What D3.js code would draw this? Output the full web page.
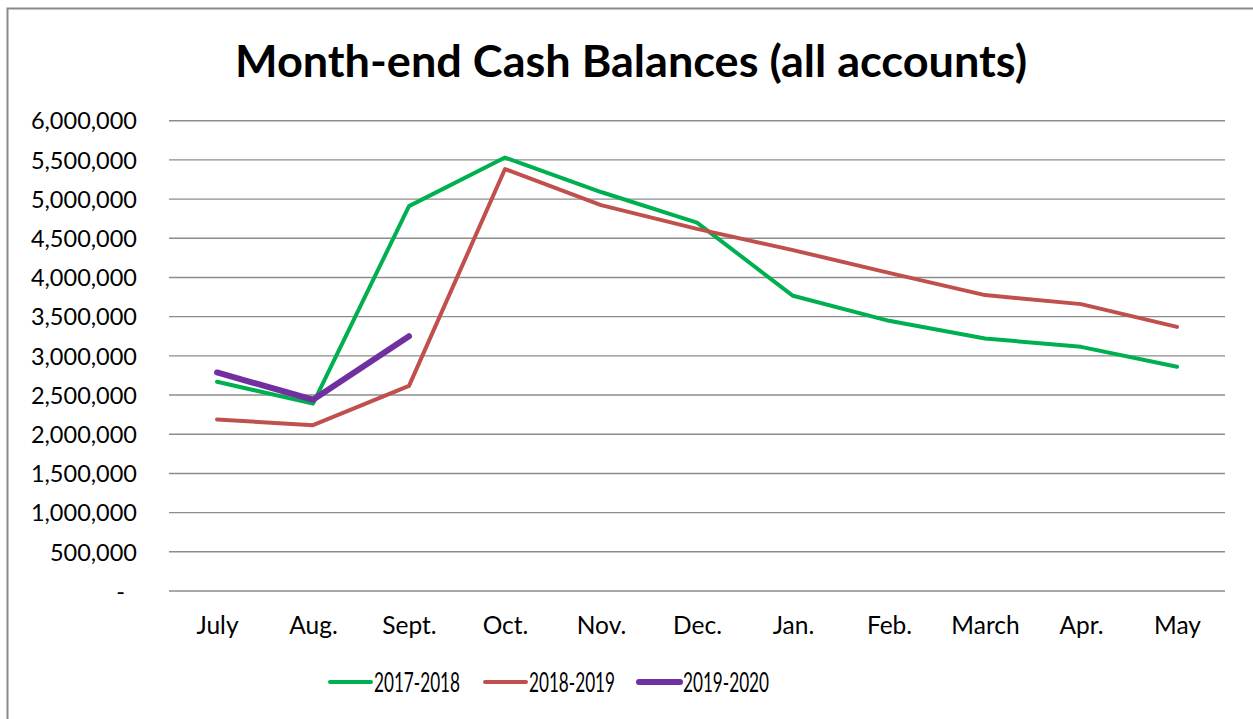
<!DOCTYPE html>
<html>
<head>
<meta charset="utf-8">
<script src="https://cdn.jsdelivr.net/npm/d3@7"></script>
<style>
  body { margin: 0; background: #fff; }
  text { font-family: Lato, "Open Sans", sans-serif; fill: #000; }
</style>
</head>
<body>
<div id="chart"></div>
<script>
var months = ["July", "Aug.", "Sept.", "Oct.", "Nov.", "Dec.", "Jan.", "Feb.", "March", "Apr.", "May"];
var fy1718 = [2670000, 2390000, 4910000, 5530000, 5090000, 4700000, 3766000, 3447000, 3222000, 3115000, 2860000];
var fy1819 = [2188000, 2115000, 2617000, 5383000, 4923000, 4620000, 4349000, 4059000, 3775000, 3660000, 3370000];
var fy1920 = [2788000, 2440000, 3251000];
var seriesNames = ["2017-2018", "2018-2019", "2019-2020"];
var yTicks = [0, 500000, 1000000, 1500000, 2000000, 2500000, 3000000, 3500000, 4000000, 4500000, 5000000, 5500000, 6000000];

var W = 1253, H = 719;
var plotLeft = 169, plotRight = 1225, plotTop = 120.7, plotBottom = 591;

var svg = d3.select("#chart")
    .append("svg")
    .attr("width", W)
    .attr("height", H);

// outer frame
svg.append("rect")
    .attr("x", 7.5).attr("y", 8.5)
    .attr("width", W + 20).attr("height", H + 20)
    .attr("fill", "none")
    .attr("stroke", "#8a8a8a")
    .attr("stroke-width", 2);

svg.append("text")
    .attr("x", 631)
    .attr("y", 77)
    .attr("text-anchor", "middle")
    .style("font-size", "43px")
    .style("font-weight", "bold")
    .attr("textLength", 792)
    .attr("lengthAdjust", "spacingAndGlyphs")
    .text("Month-end Cash Balances (all accounts)");

var x = d3.scalePoint()
    .domain(months)
    .range([plotLeft, plotRight])
    .padding(0.5);

var y = d3.scaleLinear()
    .domain([0, 6000000])
    .range([plotBottom, plotTop]);

// gridlines
svg.append("g")
    .selectAll("line")
    .data(yTicks)
    .enter()
    .append("line")
    .attr("x1", plotLeft)
    .attr("x2", plotRight)
    .attr("y1", function (d) { return y(d); })
    .attr("y2", function (d) { return y(d); })
    .attr("stroke", "#8c8c8c")
    .attr("stroke-width", 1.4);

var fmt = d3.format(",");
var yAxis = svg.append("g")
    .attr("transform", "translate(" + plotLeft + ",0)")
    .call(d3.axisLeft(y).tickValues(yTicks).tickSize(0).tickPadding(32)
        .tickFormat(function (d) { return d === 0 ? "-" : fmt(d); }));
yAxis.select(".domain").remove();
yAxis.selectAll("text")
    .style("font-size", "23.5px")
    .style("font-family", "Lato, sans-serif")
    .attr("dy", "0.35em")
    .attr("dx", function (d) { return d === 0 ? -12 : 0; });

var xAxis = svg.append("g")
    .attr("transform", "translate(0," + plotBottom + ")")
    .call(d3.axisBottom(x).tickSize(0).tickPadding(26));
xAxis.select(".domain").remove();
xAxis.selectAll("text")
    .style("font-size", "24.5px")
    .style("font-family", "Lato, sans-serif");

var series = [
    {name: seriesNames[0], values: fy1718, color: "#00b050", width: 4},
    {name: seriesNames[1], values: fy1819, color: "#c0504d", width: 4},
    {name: seriesNames[2], values: fy1920, color: "#7030a0", width: 6}
];

var line = d3.line()
    .x(function (d, i) { return x(months[i]); })
    .y(function (d) { return y(d); });

svg.selectAll(".series")
    .data(series)
    .enter()
    .append("path")
    .attr("class", "series")
    .attr("d", function (s) { return line(s.values); })
    .attr("fill", "none")
    .attr("stroke", function (s) { return s.color; })
    .attr("stroke-width", function (s) { return s.width; })
    .attr("stroke-linecap", "round")
    .attr("stroke-linejoin", "round");

// legend
var legendX = [330, 485, 639];
var leg = svg.selectAll(".leg")
    .data(series)
    .enter()
    .append("g")
    .attr("class", "leg")
    .attr("transform", function (s, i) { return "translate(" + legendX[i] + ",682)"; });
leg.append("line")
    .attr("x1", 0).attr("x2", 41)
    .attr("stroke", function (s) { return s.color; })
    .attr("stroke-width", function (s) { return s.width; })
    .attr("stroke-linecap", "round");
leg.append("text")
    .attr("x", 44)
    .attr("y", 9.5)
    .style("font-size", "27px")
    .attr("textLength", 86)
    .attr("lengthAdjust", "spacingAndGlyphs")
    .text(function (s) { return s.name; });
</script>
</body>
</html>
